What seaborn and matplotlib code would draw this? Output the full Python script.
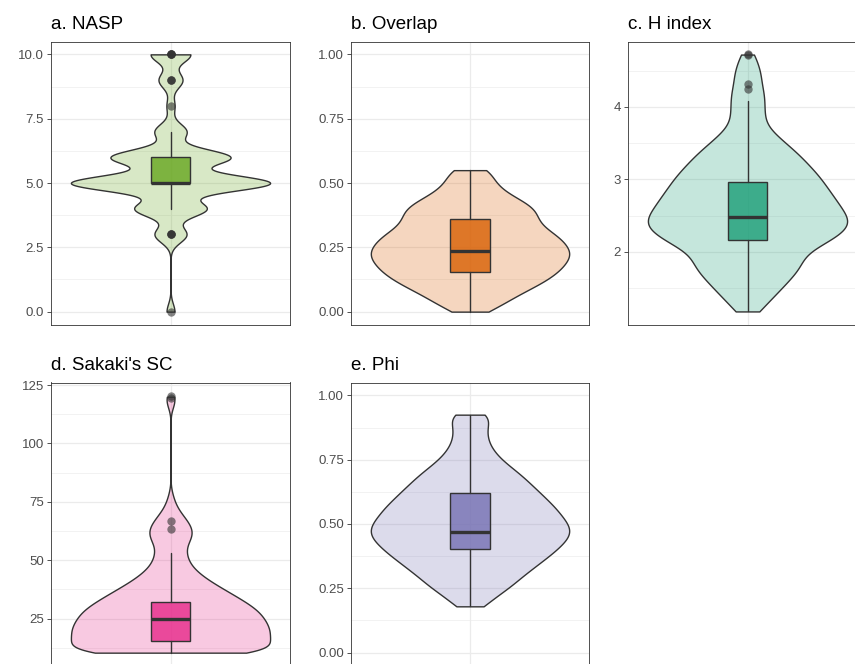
import numpy as np
import matplotlib
matplotlib.use('Agg')
import matplotlib.pyplot as plt
import matplotlib.colors as mcolors
from matplotlib.ticker import FixedLocator, AutoMinorLocator, FormatStrFormatter
from matplotlib.cbook import boxplot_stats
import seaborn as sns

# ---- data ----
# a. NASP: integer scores and how often each one occurs
nasp_values = [0, 3, 4, 5, 6, 7, 8, 9, 10]
nasp_counts = [1, 4, 9, 25, 15, 4, 1, 3, 5]

# b. Overlap: value grid and relative frequency (from violin width)
overlap_values = [0.0, 0.025, 0.05, 0.075, 0.1, 0.125, 0.15, 0.175, 0.2, 0.225, 0.25, 0.275,
                  0.3, 0.325, 0.35, 0.375, 0.4, 0.425, 0.45, 0.475, 0.5, 0.525, 0.55]
overlap_counts = [4, 6, 8, 10, 13, 15, 17, 18, 19, 20, 19, 18, 17, 14, 13, 13, 13, 11, 8, 6, 5, 4, 5]
overlap_box = dict(q1=0.156, med=0.236, q3=0.359, whislo=0.0, whishi=0.55, fliers=[])

# c. H index
hindex_values = [1.18, 1.3, 1.4, 1.5, 1.6, 1.7, 1.8, 1.9, 2.0, 2.1, 2.2, 2.3, 2.4, 2.5, 2.6, 2.7,
                 2.8, 2.9, 3.0, 3.1, 3.2, 3.3, 3.4, 3.5, 3.6, 3.7, 3.8, 3.9, 4.0, 4.1, 4.2, 4.3,
                 4.4, 4.5, 4.6, 4.72]
hindex_counts = [5, 6, 8, 10, 12, 14, 16, 16, 17, 22, 26, 29, 31, 29, 28, 26, 25, 23, 22, 20, 18,
                 16, 14, 11, 9, 6, 5, 5, 5, 5, 5, 4, 4, 4, 3, 3]
hindex_box = dict(q1=2.16, med=2.48, q3=2.96, whislo=1.18, whishi=4.08,
                  fliers=[4.24, 4.31, 4.72, 4.73])

# d. Sakaki's SC
sakaki_values = [10.4, 12.5, 15, 17.5, 20, 22.5, 25, 27.5, 30, 32.5, 35, 37.5, 40, 42.5, 45,
                 47.5, 50, 52.5, 55, 57.5, 60, 62.5, 65, 67.5, 70, 72.5, 75, 77.5, 117.5, 120]
sakaki_counts = [38, 26, 29, 30, 30, 29, 28, 27, 25, 22, 19, 16, 13, 10, 8, 6, 5, 5, 4, 5, 7, 7,
                 6, 5, 3, 2, 1, 1, 2, 2]
sakaki_box = dict(q1=15.2, med=24.7, q3=32.0, whislo=10.4, whishi=53.2,
                  fliers=[63.4, 66.9, 119.5, 120.2])

# e. Phi
phi_values = [0.18, 0.205, 0.23, 0.255, 0.28, 0.305, 0.33, 0.355, 0.38, 0.405, 0.43, 0.455, 0.48,
              0.505, 0.53, 0.555, 0.58, 0.605, 0.63, 0.655, 0.68, 0.705, 0.73, 0.755, 0.78, 0.805,
              0.83, 0.855, 0.88, 0.905, 0.925]
phi_counts = [5, 6, 9, 12, 14, 16, 19, 21, 24, 26, 28, 30, 30, 29, 27, 26, 24, 22, 20, 18, 16, 14,
              11, 9, 7, 6, 5, 5, 5, 5, 7]
phi_box = dict(q1=0.403, med=0.47, q3=0.62, whislo=0.182, whishi=0.925, fliers=[])

titles = ['a. NASP', 'b. Overlap', 'c. H index', "d. Sakaki's SC", 'e. Phi']
colors = ['#66a61e', '#d95f02', '#1b9e77', '#e7298a', '#7570b3']

# ---- style ----
sns.set_style('white')
plt.rcParams['font.family'] = ['Liberation Sans', 'DejaVu Sans']

W, H = 855, 664
fig = plt.figure(figsize=(W / 100, H / 100), dpi=100)

# panel boxes in pixels: left, top, right, bottom (c and row 2 run off the canvas)
boxes = [(51, 41.5, 290, 324.5), (351, 41.5, 589, 324.5), (628, 41.5, 867, 324.5),
         (51, 382.5, 290, 665.5), (351, 382.5, 589, 665.5)]
ylims = [(-0.5, 10.5), (-0.05, 1.05), (1.0, 4.9), (4.9, 126.1), (-0.05, 1.05)]
yticks = [[0, 2.5, 5, 7.5, 10], [0, 0.25, 0.5, 0.75, 1.0], [2, 3, 4],
          [25, 50, 75, 100, 125], [0, 0.25, 0.5, 0.75, 1.0]]
fmts = ['%.1f', '%.2f', '%d', '%d', '%.2f']
bws = [0.31, 0.03, 0.12, 3.2, 0.03]

nasp = np.repeat(nasp_values, nasp_counts)
panels = [
    (nasp, boxplot_stats(nasp)[0]),
    (np.repeat(overlap_values, overlap_counts), overlap_box),
    (np.repeat(hindex_values, hindex_counts), hindex_box),
    (np.repeat(sakaki_values, sakaki_counts), sakaki_box),
    (np.repeat(phi_values, phi_counts), phi_box),
]

for i, (data, stats) in enumerate(panels):
    l, t, r, b = boxes[i]
    ax = fig.add_axes([l / W, 1 - b / H, (r - l) / W, (b - t) / H])
    rgb = mcolors.to_rgb(colors[i])

    sns.violinplot(y=data, ax=ax, color=rgb, saturation=1, linecolor='#333333', linewidth=1.0,
                   inner=None, cut=0, width=1.0, gridsize=400,
                   bw_method=bws[i] / np.std(data, ddof=1))
    for coll in ax.collections:
        coll.set_facecolor((*rgb, 0.25))

    ax.bxp([stats], positions=[0], widths=0.2, patch_artist=True, showcaps=False, zorder=3,
           boxprops=dict(facecolor=(*rgb, 0.8), edgecolor='#333333', linewidth=1.0),
           medianprops=dict(color='#333333', linewidth=2.4),
           whiskerprops=dict(color='#333333', linewidth=1.0),
           flierprops=dict(marker='o', markerfacecolor='#333333', markeredgecolor='none',
                           markersize=6, alpha=0.6))

    ax.set_xlim(-0.6, 0.6)
    ax.set_ylim(*ylims[i])
    ax.set_xlabel('')
    ax.set_ylabel('')
    ax.set_xticks([0])
    ax.set_xticklabels([''])
    ax.yaxis.set_major_locator(FixedLocator(yticks[i]))
    ax.yaxis.set_major_formatter(FormatStrFormatter(fmts[i]))
    ax.yaxis.set_minor_locator(AutoMinorLocator(2))

    ax.set_axisbelow(True)
    ax.grid(True, which='major', color='#ebebeb', linewidth=0.9)
    ax.grid(True, which='minor', axis='y', color='#ebebeb', linewidth=0.45)
    ax.tick_params(axis='x', length=0)
    ax.tick_params(axis='y', which='major', length=3, width=0.6, color='#333333',
                   labelsize=9.5, labelcolor='#4d4d4d', pad=2, left=True)
    ax.tick_params(axis='y', which='minor', length=0)
    for s in ax.spines.values():
        s.set_color('#333333')
        s.set_linewidth(0.6)

    ax.set_title(titles[i], loc='left', fontsize=13.5, pad=9, color='black')

fig.savefig('out.png', dpi=100, facecolor='white')
